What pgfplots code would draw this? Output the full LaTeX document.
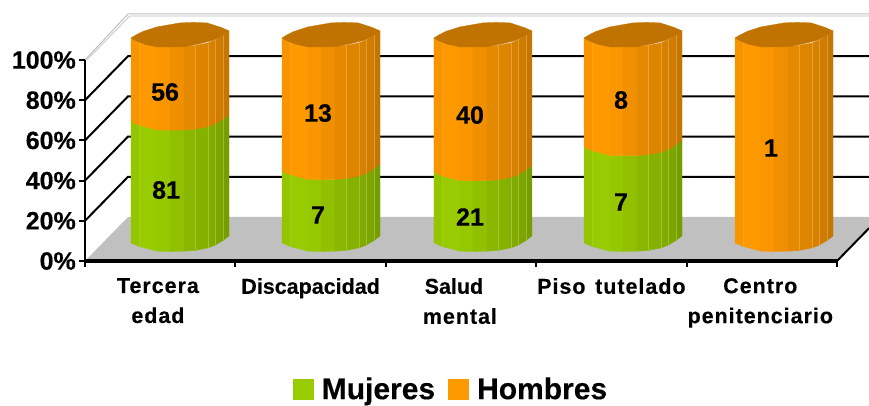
\documentclass[border=0pt]{standalone}
\usepackage{fontspec}
\setmainfont{Liberation Sans}[BoldFeatures={FakeBold=0.3}]
\newfontfamily\catfont[LetterSpace=4.5,BoldFeatures={FakeBold=0.3}]{Liberation Sans}
\usepackage{pgfplots}
\usepackage{pgfplotstable}
\pgfplotsset{compat=1.18}

\definecolor{verde}{HTML}{99CC00}
\definecolor{naranja}{HTML}{FF9900}
\definecolor{tapa}{HTML}{C07300}
\definecolor{suelo}{HTML}{C0C0C0}
\definecolor{techo}{HTML}{BFBFBF}

% cx = centre of the cylinder on the x axis, counts per group
\pgfplotstableread{
cx    mujeres hombres
0.632 81      56
1.636 7       13
2.646 21      40
3.644 7       8
4.648 0       1
}\datos

% one px is 150.4 pt-units on x and 2.01 on y; cylinder stands 9 up and is 102 tall
\newcommand{\tramo}[4]{%
  \foreach \a/\oa/\b/\ob/\f in {0/0/8/3.5/97,8/3.5/26/8.3/100,26/8.3/39/8.5/98,39/8.5/53/8.3/94,53/8.3/64/7.5/90,64/7.5/77/5/87,77/5/84/2.3/84,84/2.3/92/-2.5/81,92/-2.5/98/-7/77}{%
    \pgfmathsetmacro\xa{#1+(\a-49)/150.4}
    \pgfmathsetmacro\xb{#1+(\b-49)/150.4}
    \pgfmathsetmacro\yal{9+1.02*#2-\oa/2.01}
    \pgfmathsetmacro\ybl{9+1.02*#2-\ob/2.01}
    \pgfmathsetmacro\yah{9+1.02*#3-\oa/2.01}
    \pgfmathsetmacro\ybh{9+1.02*#3-\ob/2.01}
    \edef\temp{\noexpand\addplot[forget plot,fill=#4!\f!black,draw=#4!\f!black,line width=.3pt] coordinates {(\xa,\yal)(\xb,\ybl)(\xb,\ybh)(\xa,\yah)} -- cycle;}
    \temp
  }%
  % light seams between the facets
  \foreach \a/\oa/\op in {8/3.5/.2,64/7.5/.45,77/5/.45,84/2.3/.45,92/-2.5/.45}{%
    \pgfmathsetmacro\xa{#1+(\a-49)/150.4}
    \pgfmathsetmacro\yal{9+1.02*#2-\oa/2.01}
    \pgfmathsetmacro\yah{9+1.02*#3-\oa/2.01}
    \edef\temp{\noexpand\addplot[forget plot,draw=#4!55!white,line width=.5pt,opacity=\op] coordinates {(\xa,\yal)(\xa,\yah)};}
    \temp
  }%
}
\newcommand{\tapa}[1]{%
  \def\coords{}%
  \foreach \a/\o in {0/0,5/3,12/6.5,26/11,49/15,62/15.5,76/15,90/10.5,98/7,91/2,82/-2.5,68/-6,52/-9,26/-9,14/-6.5,5/-3}{%
    \pgfmathsetmacro\xx{#1+(\a-49)/150.4}
    \pgfmathsetmacro\yy{111+\o/2.01}
    \xdef\coords{\coords(\xx,\yy)}
  }%
  \edef\temp{\noexpand\addplot[forget plot,fill=tapa,draw=tapa,line width=.3pt] coordinates {\coords} -- cycle;}
  \temp
}

\begin{document}
\begin{tikzpicture}[x=1pt,y=1pt]
\path[use as bounding box] (0,0) rectangle (869,406);
\begin{axis}[
  at={(85pt,145pt)},anchor=south west,
  scale only axis,width=752pt,height=201pt,
  xmin=0,xmax=5,ymin=0,ymax=100,
  clip=false,axis on top=true,
  axis lines=left,
  x axis line style={-,line width=3.2pt},
  y axis line style={-,line width=2pt},
  tick align=outside,
  major tick length=6pt,
  tick style={black,line width=2pt},
  xtick={0,1,2,3,4,5},xticklabels={},
  extra x ticks={0.485,1.5,2.453,3.5,4.49},
  extra x tick labels={{Tercera\\edad},{\addfontfeature{LetterSpace=0}Discapacidad},{{\addfontfeature{LetterSpace=0}Salud}\\\hspace*{12pt}mental},{Piso\hspace{.45em}tutelado},{Centro\\penitenciario}},
  extra x tick style={tick style={draw=none},major tick length=0pt},
  xticklabel style={font=\catfont\bfseries\fontsize{21.5}{30}\selectfont,align=center,anchor=north,yshift=-17pt,inner sep=0pt},
  ytick={0,20,40,60,80,100},
  yticklabels={0\%,20\%,40\%,60\%,80\%,100\%},
  yticklabel style={font=\bfseries\fontsize{25}{27}\selectfont,inner sep=0pt,xshift=-3pt},
  legend style={draw=none,fill=none,at={(rel axis cs:0.276,-0.637)},anchor=west,inner sep=0pt,
    font=\bfseries\fontsize{30}{33}\selectfont,
    /tikz/every odd column/.append style={column sep=6pt},
    /tikz/every even column/.append style={column sep=11pt}},
  legend columns=2,
  legend image code/.code={\fill[#1,draw=none] (0pt,-10.5pt) rectangle (21pt,10.5pt);},
]
\addlegendimage{fill=verde}
\addlegendimage{fill=naranja}
\addlegendentry{Mujeres}
\addlegendentry{Hombres}

% back wall grid with its side lines
\addplot[forget plot,black,line width=2pt] coordinates {(0,20)(0.286,41.9)(5.213,41.9)};
\addplot[forget plot,black,line width=2pt] coordinates {(0,40)(0.286,61.9)(5.213,61.9)};
\addplot[forget plot,black,line width=2pt] coordinates {(0,60)(0.286,81.9)(5.213,81.9)};
\addplot[forget plot,black,line width=2pt] coordinates {(0,80)(0.286,101.9)(5.213,101.9)};
\addplot[forget plot,techo,line width=1pt] coordinates {(0,100)(0.286,122.9)(5.213,122.9)};
\addplot[forget plot,techo,line width=.7pt] coordinates {(0.012,100)(0.298,121.9)(5.213,121.9)};

% floor
\addplot[forget plot,fill=suelo,draw=none] coordinates {(0,0)(0.286,21.9)(5.213,21.9)(5.213,16.3)(5,0)} -- cycle;
\addplot[forget plot,black,line width=2pt] coordinates {(5,0)(5.213,16.3)};

% stacked cylinders
\foreach \i in {0,...,4}{%
  \pgfplotstablegetelem{\i}{cx}\of\datos \let\cx\pgfplotsretval
  \pgfplotstablegetelem{\i}{mujeres}\of\datos \let\mval\pgfplotsretval
  \pgfplotstablegetelem{\i}{hombres}\of\datos \let\hval\pgfplotsretval
  \pgfmathsetmacro\share{100*\mval/(\mval+\hval)}
  \ifnum\mval>0 \tramo{\cx}{0}{\share}{verde}\fi
  \tramo{\cx}{\share}{100}{naranja}
  \tapa{\cx}
}

% counts written on the cylinders
\addplot[forget plot,draw=none,nodes near coords,point meta=explicit symbolic,
  every node near coord/.append style={anchor=center,inner sep=0pt,font=\bfseries\fontsize{25}{27}\selectfont}]
  table[x=x,y=y,meta=l] {
x     y    l
0.532 84.1 56
0.539 35.3 81
1.549 73.6 13
1.549 22.9 7
2.560 72.6 40
2.560 21.9 21
3.564 80.1 8
3.564 29.4 7
4.561 56.2 1
};
\end{axis}
\end{tikzpicture}
\end{document}
